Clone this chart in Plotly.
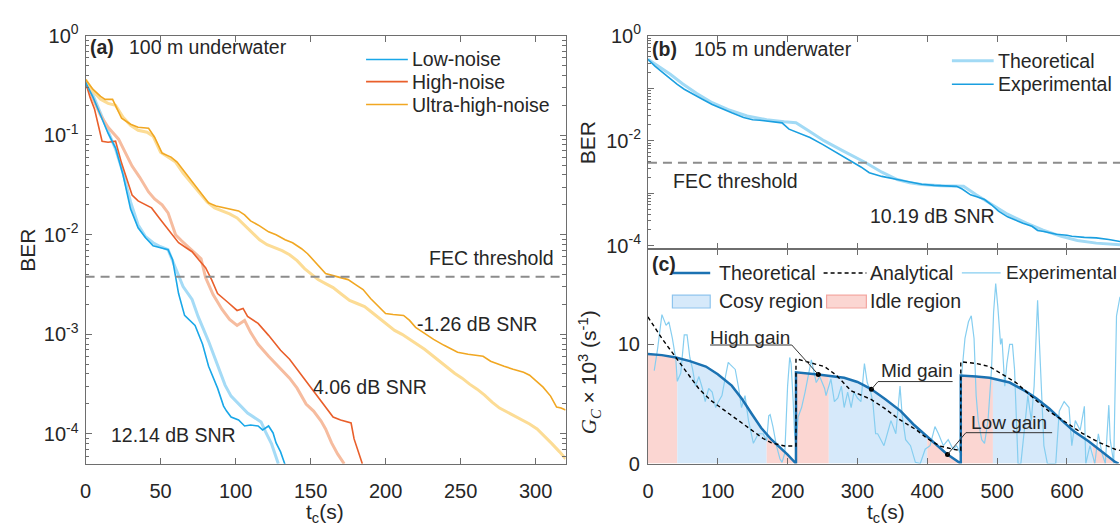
import numpy as np
import plotly.graph_objects as go

W, H = 1120, 532
def px(x): return x / W
def py(y): return 1 - y / H

FONT = "Liberation Sans, Arial, sans-serif"
TXT = "#262626"
AXC = "#6e6e6e"

# ---------------- Panel (a): 100 m underwater, BER (log10 values) ----------------
fec_threshold = 3.8e-3

low_exp_t = [0, 5, 10, 15, 20, 25, 30, 35, 40, 45, 50, 55, 58, 62, 66, 70, 73, 78, 82, 88, 92, 94, 97, 102, 106, 110, 115, 118, 122, 125, 127, 130, 133]
low_exp_log = [-0.47, -0.62, -0.80, -0.98, -1.13, -1.40, -1.74, -1.93, -2.03, -2.11, -2.13, -2.15, -2.25, -2.59, -2.81, -2.87, -2.91, -3.10, -3.32, -3.54, -3.72, -3.77, -3.83, -3.86, -3.92, -3.91, -3.92, -3.96, -3.92, -3.99, -4.09, -4.18, -4.31]
low_th_t = [0, 5, 10, 15, 20, 25, 30, 35, 40, 45, 50, 55, 60, 65, 71, 75, 82, 88, 93, 97, 102, 108, 115, 117, 120, 124, 128.5]
low_th_log = [-0.47, -0.60, -0.78, -0.97, -1.14, -1.38, -1.67, -1.90, -2.02, -2.08, -2.12, -2.15, -2.33, -2.52, -2.65, -2.82, -3.07, -3.32, -3.51, -3.62, -3.70, -3.79, -3.86, -3.88, -3.98, -4.10, -4.30]

high_exp_t = [0, 3, 6, 9, 11, 15, 20, 24, 28, 31, 35, 40, 44, 50, 56, 62, 67, 71, 76, 80, 84, 88, 95, 101, 105, 108, 115, 122, 130, 136, 141, 147, 152, 159, 165, 170, 177, 179, 182, 184.5]
high_exp_log = [-0.47, -0.62, -0.74, -0.95, -1.06, -1.07, -1.06, -1.28, -1.45, -1.60, -1.66, -1.70, -1.73, -1.85, -1.96, -2.08, -2.13, -2.17, -2.26, -2.33, -2.45, -2.59, -2.68, -2.76, -2.74, -2.82, -2.89, -3.01, -3.16, -3.25, -3.35, -3.47, -3.58, -3.72, -3.83, -3.86, -3.89, -4.05, -4.18, -4.30]
high_th_t = [0, 5, 10, 15, 22, 26, 31, 36, 42, 46, 51, 55, 60, 64, 70, 77, 80, 85, 91, 96, 101, 106, 110, 115, 122, 130, 136, 141, 147, 152, 157, 160, 164, 168, 172.4]
high_th_log = [-0.47, -0.64, -0.80, -0.92, -1.04, -1.16, -1.31, -1.42, -1.57, -1.64, -1.70, -1.78, -2.00, -2.06, -2.14, -2.24, -2.43, -2.60, -2.75, -2.85, -2.91, -2.86, -2.98, -3.10, -3.22, -3.34, -3.44, -3.54, -3.70, -3.77, -3.87, -3.95, -4.09, -4.20, -4.30]

ultra_exp_t = [0, 5, 10, 13, 18, 24, 30, 35, 42, 46, 51, 57, 61, 66, 71, 75, 82, 87, 93, 97, 102, 106, 110, 116, 122, 127, 133, 138, 144, 148, 152, 156, 160, 165, 170, 175, 180, 185, 190, 195, 200, 205, 212, 216, 220, 226, 232, 239, 244, 248, 255, 260, 265, 270, 275, 279, 285, 292, 296, 300, 305, 310, 314, 317, 320]
ultra_exp_log = [-0.44, -0.54, -0.61, -0.64, -0.64, -0.83, -0.89, -0.92, -0.93, -1.02, -1.18, -1.22, -1.27, -1.37, -1.46, -1.54, -1.68, -1.71, -1.73, -1.74, -1.76, -1.80, -1.86, -1.91, -1.97, -2.00, -2.05, -2.08, -2.14, -2.19, -2.26, -2.33, -2.39, -2.41, -2.43, -2.45, -2.50, -2.55, -2.64, -2.71, -2.79, -2.80, -2.81, -2.86, -2.93, -2.99, -3.05, -3.11, -3.15, -3.18, -3.20, -3.21, -3.22, -3.27, -3.30, -3.32, -3.35, -3.38, -3.41, -3.46, -3.53, -3.62, -3.73, -3.74, -3.76]
ultra_th_t = [0, 5, 10, 15, 20, 25, 30, 35, 41, 45, 50, 55, 60, 65, 70, 75, 81, 86, 91, 96, 101, 106, 111, 116, 121, 126, 131, 136, 141, 146, 150, 155, 160, 165, 170, 176, 181, 186, 191, 196, 201, 206, 211, 216, 221, 226, 231, 236, 241, 246, 251, 256, 261, 266, 271, 276, 281, 286, 291, 296, 301, 306, 311, 316, 320]
ultra_th_log = [-0.44, -0.56, -0.64, -0.68, -0.70, -0.82, -0.90, -0.95, -0.97, -1.01, -1.17, -1.22, -1.27, -1.38, -1.47, -1.56, -1.67, -1.73, -1.76, -1.79, -1.83, -1.90, -1.97, -2.05, -2.10, -2.13, -2.16, -2.20, -2.26, -2.34, -2.39, -2.45, -2.49, -2.53, -2.59, -2.66, -2.69, -2.72, -2.78, -2.84, -2.90, -2.96, -3.00, -3.05, -3.10, -3.15, -3.21, -3.27, -3.33, -3.39, -3.44, -3.50, -3.55, -3.61, -3.68, -3.74, -3.78, -3.82, -3.86, -3.90, -3.95, -4.02, -4.10, -4.18, -4.25]

# ---------------- Panel (b): 105 m underwater ----------------
b_exp_t = [0, 10, 20, 32, 42, 52, 65, 78, 92, 105, 120, 137, 150, 160, 172, 185, 192, 202, 215, 232, 250, 267, 280, 292, 305, 317, 335, 357, 375, 392, 410, 425, 442, 450, 462, 472, 482, 492, 502, 515, 527, 537, 550, 558, 567, 585, 600, 607, 625, 642, 660, 676]
b_exp_log = [-0.45, -0.58, -0.69, -0.83, -0.93, -1.02, -1.12, -1.21, -1.31, -1.39, -1.47, -1.56, -1.60, -1.61, -1.63, -1.65, -1.66, -1.78, -1.85, -1.94, -2.07, -2.20, -2.30, -2.39, -2.50, -2.61, -2.68, -2.74, -2.79, -2.83, -2.85, -2.86, -2.87, -2.92, -3.03, -3.07, -3.12, -3.22, -3.34, -3.45, -3.52, -3.57, -3.63, -3.71, -3.73, -3.78, -3.80, -3.82, -3.84, -3.85, -3.88, -3.92]
b_th_t = [0, 15, 32, 50, 70, 92, 115, 142, 170, 195, 212, 230, 252, 280, 312, 335, 357, 375, 392, 420, 452, 470, 492, 515, 542, 565, 592, 615, 642, 676]
b_th_log = [-0.45, -0.58, -0.735, -0.92, -1.10, -1.276, -1.41, -1.53, -1.60, -1.64, -1.657, -1.81, -2.00, -2.20, -2.42, -2.60, -2.74, -2.80, -2.836, -2.86, -2.867, -3.03, -3.218, -3.40, -3.568, -3.70, -3.822, -3.90, -3.95, -3.98]

# ---------------- Panel (c): gain G_C x 10^3 (s^-1) ----------------
th_seg1_t = [0, 20, 40, 60, 83, 100, 120, 135, 149, 162, 177, 190, 200, 212]
th_seg1_g = [9.2, 9.1, 8.9, 8.6, 8.14, 7.5, 6.54, 5.4, 4.14, 3.0, 2.0, 1.3, 0.75, 0.0]
th_seg2_t = [212, 243.5, 281, 300, 319, 340, 362, 380, 400, 415, 428, 448]
th_seg2_g = [7.66, 7.47, 7.2, 6.85, 6.27, 5.4, 4.4, 3.3, 2.27, 1.5, 0.8, 0.0]
th_seg3_t = [448, 470, 489, 518, 540, 556, 575, 593, 610, 631, 650, 669, 674]
th_seg3_g = [7.39, 7.3, 7.2, 6.8, 6.1, 5.47, 4.6, 3.6, 2.7, 1.87, 1.0, 0.13, 0.0]

an_t = [0, 20, 40, 60, 73, 90, 111, 130, 149, 165, 177, 196, 212,
        212, 230, 253, 270, 291, 319, 338, 360, 385, 400, 418, 437, 448,
        448, 470, 489, 527, 550, 574, 600, 622, 645, 669, 676]
an_g = [12.3, 10.5, 8.9, 7.3, 6.27, 5.3, 4.4, 3.6, 2.8, 2.1, 1.73, 1.47, 1.47,
        8.8, 8.5, 8.14, 7.4, 6.1, 5.4, 4.67, 3.7, 2.8, 2.1, 1.47, 1.2, 1.1,
        8.54, 8.4, 8.14, 6.8, 5.6, 4.4, 3.4, 2.54, 1.8, 1.2, 1.1]

exp_c_t = [9, 14, 20, 23, 26, 30, 35, 40, 42, 47, 52, 56, 60, 64, 68, 73, 78, 82, 87, 92, 97, 101, 106, 111, 115, 118, 125, 130, 134, 139, 144, 151, 158, 165, 170, 173, 175, 179, 184, 189, 192, 196, 200, 203, 205, 208, 210, 212, 215, 220, 225, 234, 241, 246, 253, 255, 262, 267, 272, 277, 281, 286, 291, 295, 300, 305, 310, 314, 319, 322, 326, 329, 338, 348, 355, 361, 364, 369, 376, 383, 390, 397, 404, 411, 416, 423, 430, 437, 442, 447, 449, 454, 459, 463, 467, 470, 473, 478, 482, 487, 492, 495, 498, 501, 505, 507, 511, 514, 518, 522, 525, 530, 534, 539, 544, 549, 553, 558, 563, 567, 572, 584, 589, 596, 603, 607, 612, 619, 625, 627, 633, 640, 645, 650, 655, 660, 662, 667, 671, 676]
exp_c_g = [7.8, 9.7, 12.5, 12.0, 11.6, 11.9, 10.5, 8.7, 6.9, 7.6, 10.8, 10.8, 8.9, 7.9, 6.5, 7.3, 6.3, 5.2, 6.3, 6.0, 4.7, 5.2, 5.7, 7.3, 8.5, 8.3, 7.9, 6.3, 4.7, 5.7, 3.6, 1.7, 2.5, 2.5, 1.9, 4.0, 4.1, 3.1, 1.5, 0.4, 0.1, 0.9, 6.5, 8.9, 8.4, 5.2, 2.5, 1.5, 3.9, 4.7, 6.0, 8.7, 6.8, 7.3, 6.3, 5.7, 7.1, 5.2, 5.5, 6.5, 4.7, 6.0, 4.7, 6.0, 5.5, 5.2, 8.4, 6.8, 6.0, 5.2, 2.5, 2.5, 1.5, 3.6, 2.5, 6.5, 4.1, 2.0, 1.5, 0.1, 0.0, 1.2, 1.5, 3.1, 2.5, 1.5, 2.0, 1.2, 1.5, 0.9, 7.3, 10.5, 11.9, 12.4, 10.5, 5.7, 3.6, 2.0, 1.7, 3.6, 7.9, 12.7, 15.1, 13.2, 10.0, 10.5, 6.5, 8.4, 10.0, 10.0, 7.9, 0.0, 0.0, 2.8, 5.7, 3.6, 6.5, 13.7, 6.5, 1.5, 0.0, 0.0, 4.4, 5.2, 4.7, 1.5, 3.6, 2.8, 4.8, 0.0, 1.5, 0.0, 2.5, 0.9, 0.0, 4.9, 2.0, 0.0, 12.4, 14.0]

# region boundaries (s) per period: idle / cosy / idle
regions = [(0, 42, "idle", 1), (42, 170, "cosy", 1), (170, 212, "idle", 1),
           (212, 259, "idle", 2), (259, 400, "cosy", 2), (400, 448, "idle", 2),
           (448, 494, "idle", 3), (494, 637, "cosy", 3), (637, 674, "idle", 3)]

# gain annotation points (time, segment)
gain_labels = ["High gain", "Mid gain", "Low gain"]
gain_pts_t = [244, 320, 429]
gain_pts_seg = [2, 2, 2]

# ---------------- colours ----------------
C_LOW, C_LOW_L = "#19A7E8", "#A5DBF6"
C_HIGH, C_HIGH_L = "#E95F2B", "#F6BC9F"
C_ULT, C_ULT_L = "#F1A722", "#FCDC95"
C_BEXP, C_BTH = "#1A9FE0", "#A2DAF5"
C_TH = "#1B72B2"
C_EXPC = "#86CEF0"
C_COSY, C_COSY_E = "#D6E9FA", "#8DC4EE"
C_IDLE, C_IDLE_E = "#FBD6D2", "#F3A6A0"
C_FEC = "#8c8c8c"

fig = go.Figure()

def pow10(a):
    return 10 ** np.asarray(a, dtype=float)

# panel (a) traces
for t, l, c in [(low_th_t, low_th_log, C_LOW_L), (high_th_t, high_th_log, C_HIGH_L), (ultra_th_t, ultra_th_log, C_ULT_L)]:
    fig.add_trace(go.Scatter(x=t, y=pow10(l), mode="lines", line=dict(color=c, width=3), xaxis="x", yaxis="y"))
for t, l, c in [(ultra_exp_t, ultra_exp_log, C_ULT), (high_exp_t, high_exp_log, C_HIGH), (low_exp_t, low_exp_log, C_LOW)]:
    fig.add_trace(go.Scatter(x=t, y=pow10(l), mode="lines", line=dict(color=c, width=1.6), xaxis="x", yaxis="y"))
fig.add_trace(go.Scatter(x=[0, 320], y=[fec_threshold] * 2, mode="lines", line=dict(color=C_FEC, width=2, dash="9px,6px"), xaxis="x", yaxis="y"))

# panel (b)
fig.add_trace(go.Scatter(x=b_th_t, y=pow10(b_th_log), mode="lines", line=dict(color=C_BTH, width=3), xaxis="x2", yaxis="y2"))
fig.add_trace(go.Scatter(x=b_exp_t, y=pow10(b_exp_log), mode="lines", line=dict(color=C_BEXP, width=1.6), xaxis="x2", yaxis="y2"))
fig.add_trace(go.Scatter(x=[0, 676], y=[fec_threshold] * 2, mode="lines", line=dict(color=C_FEC, width=2, dash="9px,6px"), xaxis="x2", yaxis="y2"))

# panel (c)
segs = {1: (th_seg1_t, th_seg1_g), 2: (th_seg2_t, th_seg2_g), 3: (th_seg3_t, th_seg3_g)}
for t0, t1, kind, s in regions:
    st, sg = segs[s]
    ts = [t0] + [t for t in st if t0 < t < t1] + [t1]
    gs = np.interp(ts, st, sg)
    fig.add_trace(go.Scatter(x=ts, y=gs, mode="lines", line=dict(width=0),
                             fill="tozeroy", fillcolor=C_COSY if kind == "cosy" else C_IDLE,
                             xaxis="x3", yaxis="y3"))
fig.add_trace(go.Scatter(x=exp_c_t, y=exp_c_g, mode="lines", line=dict(color=C_EXPC, width=1.2), xaxis="x3", yaxis="y3"))
th_t = th_seg1_t + th_seg2_t + th_seg3_t
th_g = th_seg1_g + th_seg2_g + th_seg3_g
fig.add_trace(go.Scatter(x=th_t, y=th_g, mode="lines", line=dict(color=C_TH, width=2.5), xaxis="x3", yaxis="y3"))
fig.add_trace(go.Scatter(x=an_t, y=an_g, mode="lines", line=dict(color="black", width=1.4, dash="4px,3px"), xaxis="x3", yaxis="y3"))
dot_g = [float(np.interp(t, *segs[s])) for t, s in zip(gain_pts_t, gain_pts_seg)]
fig.add_trace(go.Scatter(x=gain_pts_t, y=dot_g, mode="markers", marker=dict(color="black", size=5), xaxis="x3", yaxis="y3"))

# ---------------- axes ----------------
def minor_log():
    return [m * 10.0 ** k for k in range(-5, 0) for m in range(2, 10)]

common = dict(showline=True, linecolor=AXC, linewidth=1, ticks="inside", ticklen=6, tickcolor=AXC,
              showgrid=False, zeroline=False, tickfont=dict(size=20, color=TXT, family=FONT))

log_vals = [1e-4, 1e-3, 1e-2, 1e-1, 1]
fig.update_layout(
    xaxis=dict(domain=[px(80), px(562.6)], range=[0, 320], tickvals=list(range(0, 301, 50)),
               anchor="y", mirror="ticks", ticklabelstandoff=9, **common),
    yaxis=dict(domain=[py(472), py(22.7)], type="log", range=[-4.3, 0], tickvals=log_vals,
               ticktext=["10<sup>-4</sup>", "10<sup>-3</sup>", "10<sup>-2</sup>", "10<sup>-1</sup>", "10<sup>0</sup>"],
               minor=dict(tickvals=minor_log(), ticks="inside", ticklen=3.5, tickcolor=AXC),
               anchor="x", mirror="ticks", ticklabelstandoff=2, **common),
    xaxis2=dict(domain=[px(645.4), 1], range=[0, 676], tickvals=list(range(0, 601, 100)), showticklabels=False,
                anchor="y2", mirror="ticks", **common),
    yaxis2=dict(domain=[py(246.7), py(22.7)], type="log", range=[-4.064, 0], tickvals=log_vals,
                ticktext=["10<sup>-4</sup>", "", "10<sup>-2</sup>", "", "10<sup>0</sup>"],
                minor=dict(tickvals=minor_log(), ticks="inside", ticklen=3.5, tickcolor=AXC),
                anchor="x2", mirror=False, ticklabelstandoff=2, **common),
    xaxis3=dict(domain=[px(645.4), 1], range=[0, 676], tickvals=list(range(0, 601, 100)),
                anchor="y3", mirror="ticks", ticklabelstandoff=9, **common),
    yaxis3=dict(domain=[py(471.7), py(246.7)], range=[0, 18], tickvals=[0, 10],
                anchor="x3", mirror=False, ticklabelstandoff=3, **common),
)

fig.update_layout(width=W, height=H, margin=dict(l=0, r=0, t=0, b=0), showlegend=False,
                  plot_bgcolor="white", paper_bgcolor="white",
                  font=dict(family=FONT, size=19, color=TXT))

ann = []
def text(x, y, s, size=19, anchor="left", angle=0, **kw):
    ann.append(dict(x=px(x), y=py(y), xref="paper", yref="paper", text=s, showarrow=False,
                    xanchor=anchor, yanchor="middle", textangle=angle,
                    font=dict(family=FONT, size=size, color=TXT), **kw))

shapes = []
def pline(x0, y0, x1, y1, color, width, dash="solid"):
    shapes.append(dict(type="line", xref="paper", yref="paper", x0=px(x0), y0=py(y0), x1=px(x1), y1=py(y1),
                       line=dict(color=color, width=width, dash=dash)))
def pbox(x0, y0, x1, y1, fill, edge):
    shapes.append(dict(type="rect", xref="paper", yref="paper", x0=px(x0), y0=py(y0), x1=px(x1), y1=py(y1),
                       fillcolor=fill, line=dict(color=edge, width=1.2)))

# panel (a) text
text(82, 35, "<b>(a)</b>", 19.5)
text(122, 35, "100 m underwater", 19.5)
for y, s, c in [(47.7, "Low-noise", C_LOW), (71, "High-noise", C_HIGH), (95, "Ultra-high-noise", C_ULT)]:
    pline(362, y, 404, y, c, 1.6)
    text(406, y, s, 19.5)
text(553, 256, "FEC threshold", 19.5, anchor="right")
text(411, 325, "-1.26 dB SNR", 19.5)
text(307, 391, "4.06 dB SNR", 19.5)
text(104, 442, "12.14 dB SNR", 19.5)
text(22, 247.5, "BER", 21, anchor="center", angle=-90)
text(321, 524, "t<sub>c</sub>(s)", 21, anchor="center")

# panel (b) text
text(647, 37, "<b>(b)</b>", 19.5)
text(690, 37, "105 m underwater", 19.5)
pline(951, 49, 993, 49, C_BTH, 3)
pline(951, 73.7, 993, 73.7, C_BEXP, 1.6)
text(995, 49, "Theoretical", 19.5)
text(995, 73.7, "Experimental", 19.5)
text(669, 175.4, "FEC threshold", 19.5)
text(867, 212.3, "10.19 dB SNR", 19.5)
text(585, 134.7, "BER", 21, anchor="center", angle=-90)

# panel (c) text + legend
text(647, 262, "<b>(c)</b>", 19.5)
pline(670, 271.7, 708, 271.7, C_TH, 2.5)
text(715, 271.7, "Theoretical", 19.5)
pline(822, 271.7, 865, 271.7, "black", 1.4, "4px,3px")
text(867, 271.7, "Analytical", 19.5)
pline(961, 271.7, 1000, 271.7, C_EXPC, 1.2)
text(1003, 271.7, "Experimental", 19)
pbox(670, 295, 708, 308.5, C_COSY, C_COSY_E)
text(715, 301.5, "Cosy region", 19.5)
pbox(825, 295, 865, 308.5, C_IDLE, C_IDLE_E)
text(867, 301.5, "Idle region", 19.5)
text(885, 524, "t<sub>c</sub>(s)", 21, anchor="center")
text(586, 376, "<span style='font-family:Liberation Serif'><i>G</i><sub><i>C</i></sub></span> × 10<sup>3</sup> (s<sup>-1</sup>)",
     21, anchor="center", angle=-90)

# gain labels (data coords of panel c)
label_pos = [(146, 10.6), (385, 7.8), (517, 3.47)]
under = [((89, 9.95), (206, 9.95)), ((329.5, 6.88), (436.3, 6.88)), ((455.3, 2.59), (578.8, 2.59))]
for (lx, ly), lab, ((ux0, uy), (ux1, _)), pt, pg in zip(label_pos, gain_labels, under, gain_pts_t, dot_g):
    ann.append(dict(x=lx, y=ly, xref="x3", yref="y3", text=lab, showarrow=False, xanchor="center",
                    yanchor="middle", font=dict(family=FONT, size=19, color=TXT)))
    shapes.append(dict(type="line", xref="x3", yref="y3", x0=ux0, y0=uy, x1=ux1, y1=uy, line=dict(color="#333", width=1)))
    sx = ux1 if lab == "High gain" else ux0
    shapes.append(dict(type="line", xref="x3", yref="y3", x0=sx, y0=uy, x1=pt, y1=pg, line=dict(color="#333", width=1)))

fig.update_layout(annotations=ann, shapes=shapes)
fig.write_html("out.html")
